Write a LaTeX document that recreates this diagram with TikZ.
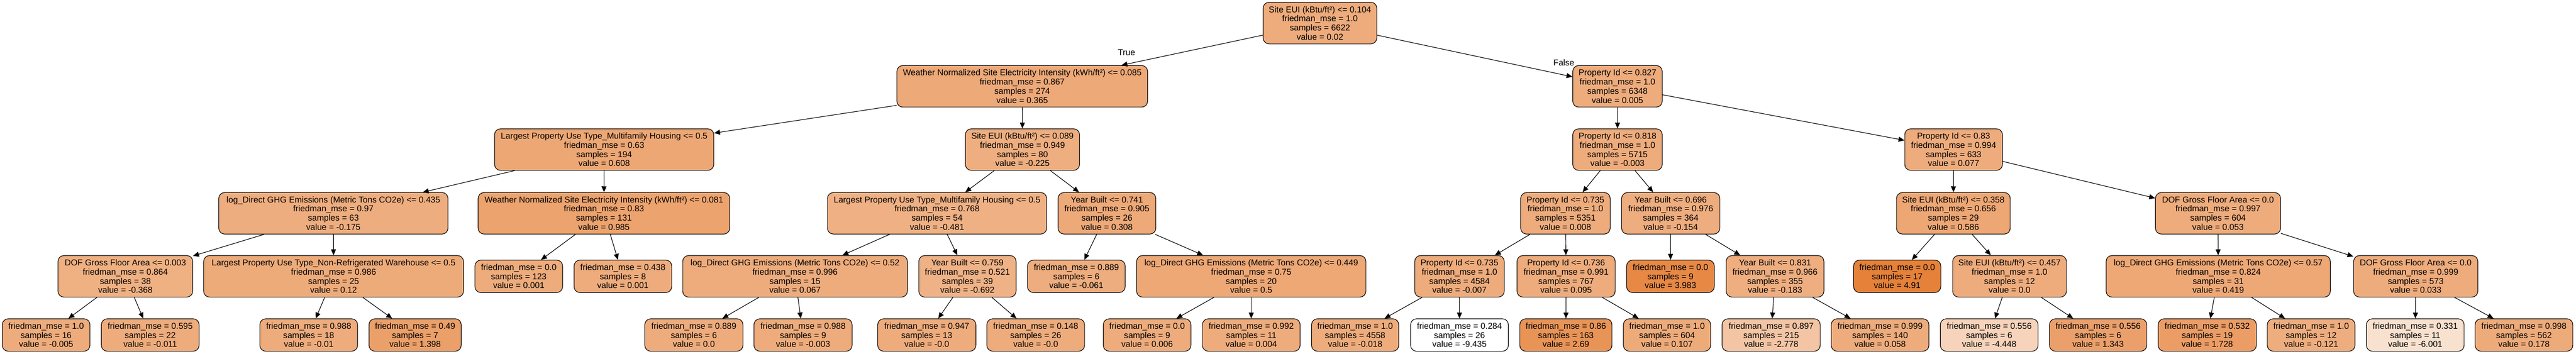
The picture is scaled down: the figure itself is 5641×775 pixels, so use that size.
\documentclass[tikz,border=0pt]{standalone}
\usepackage{fontspec}
\setmainfont{Liberation Sans}
\usetikzlibrary{arrows.meta}
\definecolor{tcol}{RGB}{229,129,57}
\begin{document}
\begin{tikzpicture}[x=1pt,y=-1pt,
  tb/.style={draw=black, line width=1.3pt, rounded corners=13pt, fill=tcol!#1!white,
    minimum height=91pt, inner sep=0pt, align=center, text=black,
    font=\fontsize{18.67pt}{20pt}\selectfont},
  lf/.style={tb={#1}, minimum height=71pt},
  edge/.style={draw=black, line width=1.3pt, -{Triangle[length=13pt,width=11pt]}},
  elab/.style={inner sep=0pt, font=\fontsize{18.67pt}{20pt}\selectfont}]
\fill[white] (0,0) rectangle (5641,775);
\useasboundingbox (0,0) rectangle (5641,775);
% level 0
\node[tb=66, minimum width=249pt] (r) at (2890.5,50.5) {Site EUI (kBtu/ft²) <= 0.104\\friedman\_mse = 1.0\\samples = 6622\\value = 0.02};
% level 1
\node[tb=68, minimum width=549pt] (A) at (2238.5,189) {Weather Normalized Site Electricity Intensity (kWh/ft²) <= 0.085\\friedman\_mse = 0.867\\samples = 274\\value = 0.365};
\node[tb=66, minimum width=196pt] (B) at (3542,189) {Property Id <= 0.827\\friedman\_mse = 1.0\\samples = 6348\\value = 0.005};
% level 2
\node[tb=70, minimum width=480pt] (AA) at (1323,327.5) {Largest Property Use Type\_Multifamily Housing <= 0.5\\friedman\_mse = 0.63\\samples = 194\\value = 0.608};
\node[tb=64, minimum width=250pt] (AB) at (2239,327.5) {Site EUI (kBtu/ft²) <= 0.089\\friedman\_mse = 0.949\\samples = 80\\value = -0.225};
\node[tb=66, minimum width=196pt] (BA) at (3542,327.5) {Property Id <= 0.818\\friedman\_mse = 1.0\\samples = 5715\\value = -0.003};
\node[tb=66, minimum width=214pt] (BB) at (4278,327.5) {Property Id <= 0.83\\friedman\_mse = 0.994\\samples = 633\\value = 0.077};
% level 3
\node[tb=65, minimum width=502pt] (AAA) at (730,467) {log\_Direct GHG Emissions (Metric Tons CO2e) <= 0.435\\friedman\_mse = 0.97\\samples = 63\\value = -0.175};
\node[tb=73, minimum width=551pt] (AAB) at (1322.5,467) {Weather Normalized Site Electricity Intensity (kWh/ft²) <= 0.081\\friedman\_mse = 0.83\\samples = 131\\value = 0.985};
\node[tb=62, minimum width=480pt] (ABA) at (2052,467) {Largest Property Use Type\_Multifamily Housing <= 0.5\\friedman\_mse = 0.768\\samples = 54\\value = -0.481};
\node[tb=68, minimum width=214pt] (ABB) at (2424,467) {Year Built <= 0.741\\friedman\_mse = 0.905\\samples = 26\\value = 0.308};
\node[tb=66, minimum width=196pt] (BAA) at (3428,467) {Property Id <= 0.735\\friedman\_mse = 1.0\\samples = 5351\\value = 0.008};
\node[tb=65, minimum width=215pt] (BAB) at (3658.5,467) {Year Built <= 0.696\\friedman\_mse = 0.976\\samples = 364\\value = -0.154};
\node[tb=70, minimum width=249pt] (BBA) at (4277.5,467) {Site EUI (kBtu/ft²) <= 0.358\\friedman\_mse = 0.656\\samples = 29\\value = 0.586};
\node[tb=66, minimum width=274pt] (BBB) at (4857,467) {DOF Gross Floor Area <= 0.0\\friedman\_mse = 0.997\\samples = 604\\value = 0.053};
% level 4
\node[tb=63, minimum width=295pt] (AAAA) at (274.5,605) {DOF Gross Floor Area <= 0.003\\friedman\_mse = 0.864\\samples = 38\\value = -0.368};
\node[tb=67, minimum width=569pt] (AAAB) at (730.5,605) {Largest Property Use Type\_Non-Refrigerated Warehouse <= 0.5\\friedman\_mse = 0.986\\samples = 25\\value = 0.12};
\node[lf=66, minimum width=192pt] (AABA) at (1136,605) {friedman\_mse = 0.0\\samples = 123\\value = 0.001};
\node[lf=66, minimum width=214pt] (AABB) at (1364,605) {friedman\_mse = 0.438\\samples = 8\\value = 0.001};
\node[tb=66, minimum width=492pt] (ABAA) at (1741,605) {log\_Direct GHG Emissions (Metric Tons CO2e) <= 0.52\\friedman\_mse = 0.996\\samples = 15\\value = 0.067};
\node[tb=61, minimum width=213pt] (ABAB) at (2118.5,605) {Year Built <= 0.759\\friedman\_mse = 0.521\\samples = 39\\value = -0.692};
\node[lf=65, minimum width=214pt] (ABBA) at (2357,605) {friedman\_mse = 0.889\\samples = 6\\value = -0.061};
\node[tb=69, minimum width=502pt] (ABBB) at (2740,605) {log\_Direct GHG Emissions (Metric Tons CO2e) <= 0.449\\friedman\_mse = 0.75\\samples = 20\\value = 0.5};
\node[tb=66, minimum width=196pt] (BAAA) at (3196,605) {Property Id <= 0.735\\friedman\_mse = 1.0\\samples = 4584\\value = -0.007};
\node[tb=66, minimum width=215pt] (BAAB) at (3429.5,605) {Property Id <= 0.736\\friedman\_mse = 0.991\\samples = 767\\value = 0.095};
\node[lf=94, minimum width=192pt] (BABA) at (3658,605) {friedman\_mse = 0.0\\samples = 9\\value = 3.983};
\node[tb=64, minimum width=214pt] (BABB) at (3887,605) {Year Built <= 0.831\\friedman\_mse = 0.966\\samples = 355\\value = -0.183};
\node[lf=100, minimum width=191pt] (BBAA) at (4154.5,605) {friedman\_mse = 0.0\\samples = 17\\value = 4.91};
\node[tb=66, minimum width=249pt] (BBAB) at (4400.5,605) {Site EUI (kBtu/ft²) <= 0.457\\friedman\_mse = 1.0\\samples = 12\\value = 0.0};
\node[tb=69, minimum width=491pt] (BBBA) at (4857.5,605) {log\_Direct GHG Emissions (Metric Tons CO2e) <= 0.57\\friedman\_mse = 0.824\\samples = 31\\value = 0.419};
\node[tb=66, minimum width=272pt] (BBBB) at (5290,605) {DOF Gross Floor Area <= 0.0\\friedman\_mse = 0.999\\samples = 573\\value = 0.033};
% level 5 leaves
\node[lf=66, minimum width=192pt] (L1) at (101,733.5) {friedman\_mse = 1.0\\samples = 16\\value = -0.005};
\node[lf=66, minimum width=214pt] (L2) at (329,733.5) {friedman\_mse = 0.595\\samples = 22\\value = -0.011};
\node[lf=66, minimum width=214pt] (L3) at (676,733.5) {friedman\_mse = 0.988\\samples = 18\\value = -0.01};
\node[lf=76, minimum width=202pt] (L4) at (909,733.5) {friedman\_mse = 0.49\\samples = 7\\value = 1.398};
\node[lf=66, minimum width=215pt] (L5) at (1519.5,733.5) {friedman\_mse = 0.889\\samples = 6\\value = 0.0};
\node[lf=66, minimum width=215pt] (L6) at (1758.5,733.5) {friedman\_mse = 0.988\\samples = 9\\value = -0.003};
\node[lf=66, minimum width=215pt] (L7) at (2029.5,733.5) {friedman\_mse = 0.947\\samples = 13\\value = -0.0};
\node[lf=66, minimum width=214pt] (L8) at (2268,733.5) {friedman\_mse = 0.148\\samples = 26\\value = -0.0};
\node[lf=66, minimum width=192pt] (L9) at (2512,733.5) {friedman\_mse = 0.0\\samples = 9\\value = 0.006};
\node[lf=66, minimum width=214pt] (L10) at (2740,733.5) {friedman\_mse = 0.992\\samples = 11\\value = 0.004};
\node[lf=66, minimum width=191pt] (L11) at (2967.5,733.5) {friedman\_mse = 1.0\\samples = 4558\\value = -0.018};
\node[lf=0, minimum width=214pt] (L12) at (3196,733.5) {friedman\_mse = 0.284\\samples = 26\\value = -9.435};
\node[lf=85, minimum width=202pt] (L13) at (3429,733.5) {friedman\_mse = 0.86\\samples = 163\\value = 2.69};
\node[lf=67, minimum width=191pt] (L14) at (3650.5,733.5) {friedman\_mse = 1.0\\samples = 604\\value = 0.107};
\node[lf=46, minimum width=215pt] (L15) at (3878.5,733.5) {friedman\_mse = 0.897\\samples = 215\\value = -2.778};
\node[lf=66, minimum width=214pt] (L16) at (4117,733.5) {friedman\_mse = 0.999\\samples = 140\\value = 0.058};
\node[lf=35, minimum width=214pt] (L17) at (4356,733.5) {friedman\_mse = 0.556\\samples = 6\\value = -4.448};
\node[lf=75, minimum width=213pt] (L18) at (4594.5,733.5) {friedman\_mse = 0.556\\samples = 6\\value = 1.343};
\node[lf=78, minimum width=215pt] (L19) at (4833.5,733.5) {friedman\_mse = 0.532\\samples = 19\\value = 1.728};
\node[lf=65, minimum width=192pt] (L20) at (5061,733.5) {friedman\_mse = 1.0\\samples = 12\\value = -0.121};
\node[lf=24, minimum width=214pt] (L21) at (5289,733.5) {friedman\_mse = 0.331\\samples = 11\\value = -6.001};
\node[lf=67, minimum width=214pt] (L22) at (5527,733.5) {friedman\_mse = 0.998\\samples = 562\\value = 0.178};
% edges
\draw[edge] (r) -- (A);
\draw[edge] (r) -- (B);
\draw[edge] (A) -- (AA);
\draw[edge] (A) -- (AB);
\draw[edge] (B) -- (BA);
\draw[edge] (B) -- (BB);
\draw[edge] (AA) -- (AAA);
\draw[edge] (AA) -- (AAB);
\draw[edge] (AB) -- (ABA);
\draw[edge] (AB) -- (ABB);
\draw[edge] (BA) -- (BAA);
\draw[edge] (BA) -- (BAB);
\draw[edge] (BB) -- (BBA);
\draw[edge] (BB) -- (BBB);
\draw[edge] (AAA) -- (AAAA);
\draw[edge] (AAA) -- (AAAB);
\draw[edge] (AAB) -- (AABA);
\draw[edge] (AAB) -- (AABB);
\draw[edge] (ABA) -- (ABAA);
\draw[edge] (ABA) -- (ABAB);
\draw[edge] (ABB) -- (ABBA);
\draw[edge] (ABB) -- (ABBB);
\draw[edge] (BAA) -- (BAAA);
\draw[edge] (BAA) -- (BAAB);
\draw[edge] (BAB) -- (BABA);
\draw[edge] (BAB) -- (BABB);
\draw[edge] (BBA) -- (BBAA);
\draw[edge] (BBA) -- (BBAB);
\draw[edge] (BBB) -- (BBBA);
\draw[edge] (BBB) -- (BBBB);
\draw[edge] (AAAA) -- (L1);
\draw[edge] (AAAA) -- (L2);
\draw[edge] (AAAB) -- (L3);
\draw[edge] (AAAB) -- (L4);
\draw[edge] (ABAA) -- (L5);
\draw[edge] (ABAA) -- (L6);
\draw[edge] (ABAB) -- (L7);
\draw[edge] (ABAB) -- (L8);
\draw[edge] (ABBB) -- (L9);
\draw[edge] (ABBB) -- (L10);
\draw[edge] (BAAA) -- (L11);
\draw[edge] (BAAA) -- (L12);
\draw[edge] (BAAB) -- (L13);
\draw[edge] (BAAB) -- (L14);
\draw[edge] (BABB) -- (L15);
\draw[edge] (BABB) -- (L16);
\draw[edge] (BBAB) -- (L17);
\draw[edge] (BBAB) -- (L18);
\draw[edge] (BBBA) -- (L19);
\draw[edge] (BBBA) -- (L20);
\draw[edge] (BBBB) -- (L21);
\draw[edge] (BBBB) -- (L22);
% edge labels
\node[elab] (tlab) at (2467,115) {True};
\node[elab] (flab) at (3424.5,137) {False};
\end{tikzpicture}
\end{document}
